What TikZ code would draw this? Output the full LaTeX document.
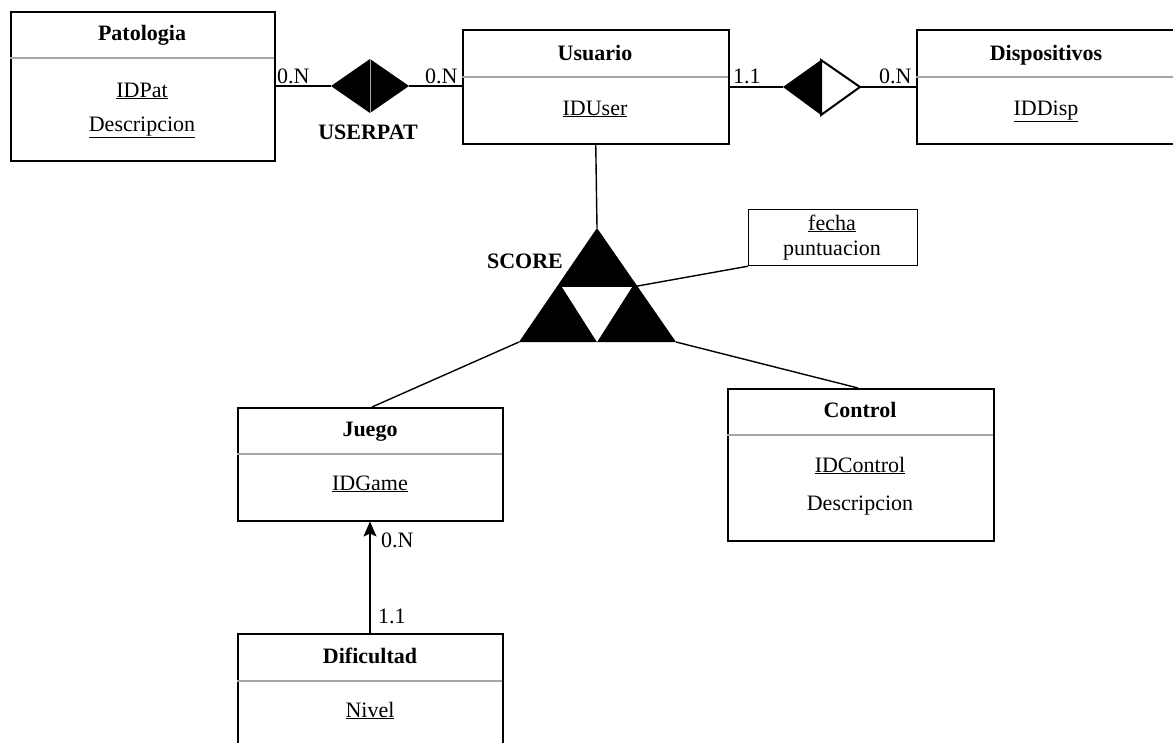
\documentclass[tikz,border=0pt]{standalone}
\usepackage{fontspec}
\setmainfont{Liberation Serif}
\usetikzlibrary{arrows.meta}
\begin{document}
\begin{tikzpicture}[x=1pt,y=-1pt,
  entity/.style={draw, line width=1.5pt, anchor=north west, inner sep=0pt, fill=white},
  sepline/.style={draw=gray!70, line width=1.2pt},
  txt/.style={anchor=base, inner sep=0pt, font=\fontsize{22}{26}\selectfont},
  btxt/.style={txt, font=\fontsize{22}{26}\selectfont\bfseries},
  conn/.style={line width=1.4pt},
]
\useasboundingbox (0,0) rectangle (1173,742);
\fill[white] (0,0) rectangle (1173,742);
\begin{scope}
\clip (0,0) rectangle (1173,742);

% Patologia
\node[entity, minimum width=264pt, minimum height=149pt] (pat) at (10,11) {};
\draw[sepline] (10,58) -- (274,58);
\node[btxt] (patT) at (142,40) {Patologia};
\node[txt] (patA) at (142,97) {\underline{IDPat}};
\node[txt] (patB) at (142,131) {\underline{Descripcion}};

% Usuario
\node[entity, minimum width=266pt, minimum height=114pt] (usr) at (462,29) {};
\draw[sepline] (462,77) -- (728,77);
\node[btxt] (usrT) at (595,60) {Usuario};
\node[txt] (usrA) at (595,115) {\underline{IDUser}};

% Dispositivos
\node[entity, minimum width=262pt, minimum height=114pt] (dis) at (916,29) {};
\draw[sepline] (916,77) -- (1178,77);
\node[btxt] (disT) at (1046,60) {Dispositivos};
\node[txt] (disA) at (1046,115) {\underline{IDDisp}};

% Juego
\node[entity, minimum width=265pt, minimum height=113pt] (jue) at (237,407) {};
\draw[sepline] (237,454) -- (502,454);
\node[btxt] (jueT) at (370,436) {Juego};
\node[txt] (jueA) at (370,490) {\underline{IDGame}};

% Control
\node[entity, minimum width=266pt, minimum height=152pt] (con) at (727,388) {};
\draw[sepline] (727,435) -- (993,435);
\node[btxt] (conT) at (860,417) {Control};
\node[txt] (conA) at (860,472) {\underline{IDControl}};
\node[txt] (conB) at (860,510) {Descripcion};

% Dificultad
\node[entity, minimum width=265pt, minimum height=130pt] (dif) at (237,633) {};
\draw[sepline] (237,681) -- (502,681);
\node[btxt] (difT) at (370,663) {Dificultad};
\node[txt] (difA) at (370,717) {\underline{Nivel}};

% fecha/puntuacion
\node[entity, line width=1.2pt, minimum width=169pt, minimum height=56pt] (fec) at (748,209) {};
\node[txt] (fecA) at (832,230) {\underline{fecha}};
\node[txt] (fecB) at (832,255) {puntuacion};

% USERPAT diamond
\coordinate (d1l) at (331,86);
\coordinate (d1r) at (409,86);
\coordinate (d1t) at (370,59);
\coordinate (d1b) at (370,113);
\fill[black] (d1l) -- (d1t) -- (d1r) -- (d1b) -- cycle;
\draw[gray!70, line width=1pt] (d1t) -- (d1b);
\node[btxt] (upL) at (368,139) {USERPAT};
\draw[conn] (pat.east |- d1l) -- (d1l);
\draw[conn] (d1r) -- (usr.west |- d1r);
\node[txt, anchor=base west] (upc1) at (277,83) {0.N};
\node[txt, anchor=base west] (upc2) at (425,83) {0.N};

% Usuario - Dispositivos diamond
\coordinate (d2l) at (783,87);
\coordinate (d2r) at (860,87);
\coordinate (d2t) at (821,60);
\coordinate (d2b) at (821,115);
\draw[line width=2pt, fill=white, line join=miter] (d2t) -- (d2r) -- (d2b) -- cycle;
\fill[black] (d2l) -- (d2t) -- (d2b) -- cycle;
\draw[conn] (usr.east |- d2l) -- (d2l);
\draw[conn] (d2r) -- (dis.west |- d2r);
\node[txt, anchor=base west] (udc1) at (733,83) {1.1};
\node[txt, anchor=base west] (udc2) at (879,83) {0.N};

% SCORE triangle
\coordinate (ta) at (597,228);
\coordinate (tl) at (519,342);
\coordinate (tr) at (676,342);
\coordinate (til) at (562,287);
\coordinate (tir) at (632,287);
\coordinate (tib) at (597,342);
\fill[black] (ta) -- (tl) -- (tr) -- cycle;
\fill[white] (til) -- (tir) -- (tib) -- cycle;
\node[btxt] (scL) at (525,268) {SCORE};
\draw[conn] (usr.south) -- (ta);
\draw[conn] (fec.south west) -- (tir);
\draw[conn] (tl) -- (jue.north -| 372,0);
\draw[conn] (tr) -- (con.north -| 858,0);

% Dificultad -> Juego
\draw[conn, -{Stealth[length=15pt,width=13pt,inset=3pt]}] (dif.north -| 370,0) -- (jue.south -| 370,0);
\node[txt, anchor=base west] (arc1) at (381,547) {0.N};
\node[txt, anchor=base west] (arc2) at (378,623) {1.1};
\end{scope}
\end{tikzpicture}
\end{document}
